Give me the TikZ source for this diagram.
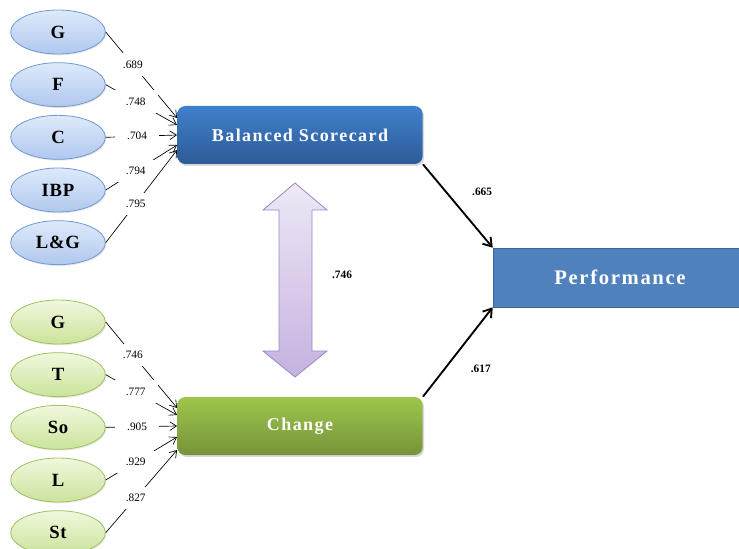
\documentclass[tikz,border=0pt]{standalone}
\usepackage{fontspec}
\setmainfont{Liberation Serif}
\usetikzlibrary{shapes.geometric, arrows.meta, positioning, calc, shadows}

\definecolor{ellblue}{HTML}{7099D2}
\definecolor{ellgreen}{HTML}{A0C162}
\definecolor{perfblue}{HTML}{4F81BD}
\definecolor{arrlilac}{HTML}{9B86C2}

\begin{document}
\begin{tikzpicture}[
    x=0.75pt, y=-0.75pt,
    node distance=5.9pt,
    indic/.style={ellipse, draw, line width=0.6pt, minimum width=71pt, minimum height=33pt, inner sep=0pt,
        font=\fontsize{14}{16}\selectfont\bfseries\addfontfeature{LetterSpace=4},
        drop shadow={opacity=0.18, shadow xshift=0.8pt, shadow yshift=-1pt}},
    bluei/.style={indic, draw=ellblue, top color={rgb,255:red,222;green,234;blue,251}, bottom color={rgb,255:red,176;green,200;blue,238}},
    greeni/.style={indic, draw=ellgreen, top color={rgb,255:red,240;green,248;blue,222}, bottom color={rgb,255:red,203;green,227;blue,154}},
    latent/.style={rectangle, rounded corners=6pt, minimum width=184pt, minimum height=43.5pt, text=white,
        font=\fontsize{13.5}{16}\selectfont\bfseries\addfontfeature{LetterSpace=8},
        drop shadow={opacity=0.3, shadow xshift=1pt, shadow yshift=-1.5pt}},
    perfbox/.style={rectangle, draw={rgb,255:red,58;green,101;blue,149}, fill=perfblue, minimum width=190.5pt, minimum height=44.25pt,
        inner sep=0pt, text=white, font=\fontsize{15.5}{18}\selectfont\bfseries\addfontfeature{LetterSpace=8}},
    loading/.style={-{Straight Barb[length=5pt, width=6.5pt]}, line width=0.5pt},
    effect/.style={-{Straight Barb[length=6pt, width=8pt]}, line width=1.4pt},
    coef/.style={fill=white, inner xsep=9pt, inner ysep=5.5pt, font=\fontsize{8.5}{10}\selectfont},
    coefb/.style={inner sep=1pt, font=\fontsize{8.5}{10}\selectfont\bfseries},
    corrarrow/.style={draw=arrlilac, line width=0.6pt, top color={rgb,255:red,238;green,232;blue,246}, bottom color={rgb,255:red,197;green,178;blue,224}}
]
\useasboundingbox (0,0) rectangle (739,549);

% Indicators
\node[bluei] (b1) at (58,32) {G};
\node[bluei, below=of b1] (b2) {F};
\node[bluei, below=of b2] (b3) {C};
\node[bluei, below=of b3] (b4) {IBP};
\node[bluei, below=of b4] (b5) {L\&G};

\node[greeni] (g1) at (58,322) {G};
\node[greeni, below=of g1] (g2) {T};
\node[greeni, below=of g2] (g3) {So};
\node[greeni, below=of g3] (g4) {L};
\node[greeni, below=of g4] (g5) {St};

% Constructs
\node[latent, top color={rgb,255:red,64;green,128;blue,204}, bottom color={rgb,255:red,45;green,91;blue,152}] (bsc) at (300,135) {Balanced Scorecard};
\node[latent, top color={rgb,255:red,158;green,198;blue,76}, bottom color={rgb,255:red,118;green,147;blue,58}] (chg) at (300,426) {Change};
\node[perfbox] (perf) at (620,277.5) {Performance};

% Correlation
\draw[corrarrow] (263,210) -- (295,183) -- (327,210) -- (312,210) -- (312,351) -- (327,351)
    -- (295,377) -- (263,351) -- (279,351) -- (279,210) -- cycle;
\node[coefb] (r1) at (342,275) {.746};

% Loadings
\draw[loading] (b1.east) -- node[coef, pos=0.38] {.689} ($(bsc.west)+(0,-17)$);
\draw[loading] (b2.east) -- node[coef, pos=0.42] {.748} ($(bsc.west)+(0,-10)$);
\draw[loading] (b3.east) -- node[coef, pos=0.44] {.704} (bsc.west);
\draw[loading] (b4.east) -- node[coef, pos=0.42] {.794} ($(bsc.west)+(0,10)$);
\draw[loading] (b5.east) -- node[coef, pos=0.42] {.795} ($(bsc.west)+(0,15)$);

\draw[loading] (g1.east) -- node[coef, pos=0.38] {.746} ($(chg.west)+(0,-18)$);
\draw[loading] (g2.east) -- node[coef, pos=0.42] {.777} ($(chg.west)+(0,-11)$);
\draw[loading] (g3.east) -- node[coef, pos=0.44] {.905} (chg.west);
\draw[loading] (g4.east) -- node[coef, pos=0.42] {.929} ($(chg.west)+(0,11)$);
\draw[loading] (g5.east) -- node[coef, pos=0.42] {.827} ($(chg.west)+(0,24)$);

% Paths
\draw[effect] (bsc.south east) -- node[coefb, pos=0.33, right=18pt] {.665} (perf.north west);
\draw[effect] (chg.north east) -- node[coefb, pos=0.31, right=18pt] {.617} (perf.south west);

\end{tikzpicture}
\end{document}
